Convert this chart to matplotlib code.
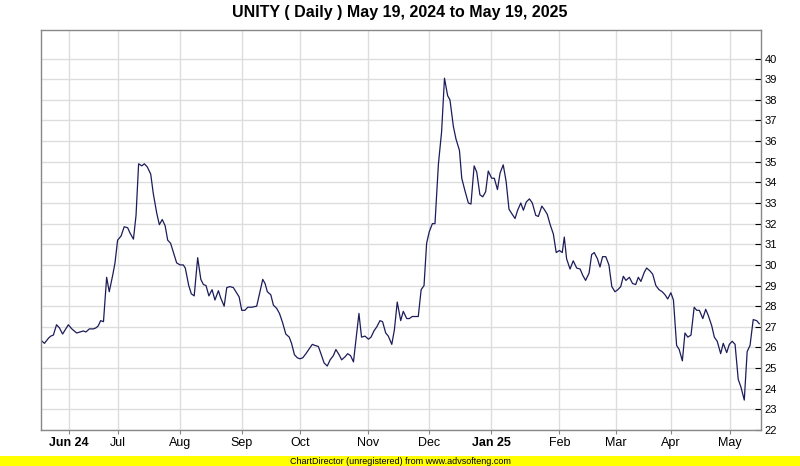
import matplotlib
matplotlib.use("Agg")
import matplotlib.pyplot as plt
from matplotlib.patches import Rectangle

# session index (trading days since May 20, 2024) and closing price
day = [0.0, 0.8, 2.2, 3.0, 3.9, 5.0, 6.0, 7.1, 9.1, 10.3, 12.0, 13.2, 14.3, 15.2, 16.4,
       17.8, 18.7, 19.5, 20.3, 21.3, 22.4, 23.3, 24.5, 25.3, 26.2, 27.4, 28.5, 29.7, 30.5,
       31.7, 32.6, 33.5, 34.6, 35.5, 36.5, 37.7, 38.6, 39.8, 40.7, 41.7, 42.7, 43.6, 44.6,
       45.8, 46.7, 47.9, 49.0, 49.7, 50.9, 51.8, 52.8, 54.0, 55.1, 56.0, 56.9, 57.9, 59.0,
       60.0, 61.2, 62.0, 63.2, 64.1, 65.2, 66.4, 67.3, 68.4, 69.3, 70.4, 71.4, 72.8, 74.5,
       76.6, 77.4, 78.2, 79.4, 80.3, 81.4, 82.4, 83.5, 84.6, 85.8, 86.6, 87.6, 88.6, 89.5,
       90.5, 91.6, 92.8, 93.8, 94.7, 95.9, 96.8, 97.9, 99.0, 100.0, 101.1, 102.0, 103.1,
       104.0, 105.2, 106.1, 107.1, 108.1, 110.0, 110.9, 112.1, 113.3, 114.2, 115.2, 116.2,
       117.3, 118.2, 119.3, 120.2, 121.4, 122.3, 123.3, 124.5, 125.4, 126.6, 127.5, 128.5,
       129.5, 130.6, 131.6, 132.6, 133.5, 134.4, 135.5, 136.4, 137.6, 138.7, 139.7, 140.8,
       141.6, 142.8, 143.7, 144.9, 145.7, 146.8, 148.0, 148.9, 150.0, 150.9, 152.0, 153.0,
       154.0, 154.9, 156.1, 157.0, 158.1, 159.0, 160.1, 161.1, 162.1, 163.0, 164.2, 165.1,
       166.2, 167.1, 168.1, 169.2, 170.2, 171.4, 172.3, 173.5, 174.3, 175.4, 176.4, 177.5,
       178.5, 179.6, 180.6, 181.3, 182.1, 183.3, 184.4, 185.6, 186.8, 187.7, 188.7, 189.9,
       190.8, 191.7, 192.8, 193.7, 194.6, 195.7, 196.8, 197.8, 198.9, 199.9, 200.9, 201.8,
       202.7, 203.9, 205.0, 206.1, 207.0, 207.9, 209.1, 209.9, 211.1, 212.0, 213.1, 214.2,
       215.3, 216.3, 217.2, 218.3, 219.2, 220.3, 221.2, 222.3, 223.2, 224.2, 225.3, 226.4,
       227.3, 228.2, 229.4, 230.4, 231.3, 232.5, 233.4, 234.4, 235.6, 236.5, 237.7, 238.6,
       239.6, 240.6, 241.7, 242.6, 243.8, 244.8, 245.8, 246.9, 248.1, 249.0]
close = [26.3, 26.2, 26.45, 26.55, 26.6, 27.1, 26.95, 26.65, 27.1, 26.9, 26.7, 26.75, 26.8, 26.75, 26.9,
         26.9, 26.95, 27.05, 27.3, 27.25, 29.4, 28.7, 29.5, 30.1, 31.2, 31.4, 31.85, 31.8, 31.55,
         31.25, 32.4, 34.9, 34.8, 34.9, 34.75, 34.4, 33.45, 32.5, 31.95, 32.2, 31.9, 31.2, 31.05,
         30.5, 30.1, 30.0, 30.0, 29.85, 29.0, 28.6, 28.5, 30.35, 29.3, 29.05, 29.0, 28.5, 28.8,
         28.3, 28.75, 28.4, 28.0, 28.9, 28.95, 28.9, 28.7, 28.45, 27.8, 27.8, 27.95, 27.95, 28.0,
         29.3, 29.1, 28.7, 28.55, 28.05, 27.9, 27.65, 27.2, 26.65, 26.5, 26.2, 25.65, 25.5, 25.45,
         25.5, 25.7, 25.95, 26.15, 26.1, 26.05, 25.7, 25.25, 25.1, 25.4, 25.6, 25.9, 25.65,
         25.4, 25.55, 25.7, 25.6, 25.3, 27.65, 26.5, 26.55, 26.4, 26.5, 26.8, 27.0,
         27.3, 27.25, 26.7, 26.55, 26.15, 26.85, 28.2, 27.3, 27.75, 27.4, 27.4, 27.5,
         27.5, 27.5, 28.8, 29.0, 31.05, 31.6, 32.0, 32.0, 34.9, 36.45, 39.05, 38.2,
         38.0, 36.7, 36.1, 35.55, 34.2, 33.6, 33.0, 32.95, 34.8, 34.5, 33.4, 33.3,
         33.55, 34.55, 34.2, 34.2, 33.65, 34.45, 34.85, 34.05, 32.7, 32.5, 32.25, 32.65,
         33.0, 32.65, 33.05, 33.2, 33.0, 32.4, 32.35, 32.85, 32.7, 32.45, 31.95, 31.5,
         30.6, 30.7, 30.6, 31.35, 30.3, 29.8, 30.2, 29.85, 29.8, 29.5, 29.25, 29.6,
         30.5, 30.6, 30.3, 29.9, 30.4, 30.4, 30.0, 28.95, 28.7, 28.8, 28.95, 29.45,
         29.25, 29.4, 29.1, 29.05, 29.4, 29.2, 29.65, 29.85, 29.7, 29.55, 29.0, 28.8,
         28.7, 28.55, 28.35, 28.65, 28.3, 26.1, 25.9, 25.35, 26.7, 26.5, 26.6, 27.95,
         27.8, 27.8, 27.4, 27.85, 27.55, 27.05, 26.5, 26.3, 25.7, 26.2, 25.75, 26.15,
         26.3, 26.15, 24.45, 24.1, 23.45, 25.8, 26.1, 27.35, 27.3, 27.15]

month_labels = ["Jun 24", "Jul", "Aug", "Sep", "Oct", "Nov", "Dec", "Jan 25", "Feb", "Mar", "Apr", "May"]
month_days = [9.3, 26.4, 48.0, 69.3, 89.6, 113.3, 134.4, 156.0, 179.6, 199.2, 218.3, 238.7]
price_ticks = list(range(22, 41))

n_sessions = 250
narrow = ["Liberation Sans Narrow", "Liberation Sans", "DejaVu Sans"]
plain = ["Liberation Sans", "DejaVu Sans"]

fig = plt.figure(figsize=(8, 4.66), dpi=100)
ax = fig.add_axes([40.7 / 800, 36 / 466, 720 / 800, 399.7 / 466])

ax.plot(day, close, color="#1c1c5a", lw=0.9)

ax.set_xlim(-0.5, n_sessions - 0.5)
ax.set_ylim(22, 41.37)

ax.set_xticks(month_days)
ax.set_xticklabels(month_labels, family=narrow, fontsize=9)
for lbl in ax.get_xticklabels():
    if lbl.get_text().endswith(("24", "25")):
        lbl.set_fontweight("bold")

ax.yaxis.tick_right()
ax.set_yticks(price_ticks)
ax.set_yticklabels([str(v) for v in price_ticks], family=plain, fontsize=8)

ax.tick_params(axis="x", direction="out", length=3, color="#888888", pad=2)
ax.tick_params(axis="y", direction="in", length=4, color="#000000", pad=3)

ax.grid(True, color="#dddddd", lw=1)
ax.set_axisbelow(True)
for s in ax.spines.values():
    s.set_color("#888888")
    s.set_linewidth(1)

fig.text(0.5, 1 - 13 / 466, "UNITY ( Daily ) May 19, 2024 to May 19, 2025",
         ha="center", va="center", family=narrow, fontsize=11.5, fontweight="bold")

# unregistered banner at the bottom
fig.patches.append(Rectangle((0, 0), 1, 10 / 466, transform=fig.transFigure,
                             facecolor="#ffff00", edgecolor="none"))
fig.text(0.5, 5 / 466, "ChartDirector (unregistered) from www.advsofteng.com",
         ha="center", va="center", family=narrow, fontsize=6.5)

fig.savefig("out.png", dpi=100)
